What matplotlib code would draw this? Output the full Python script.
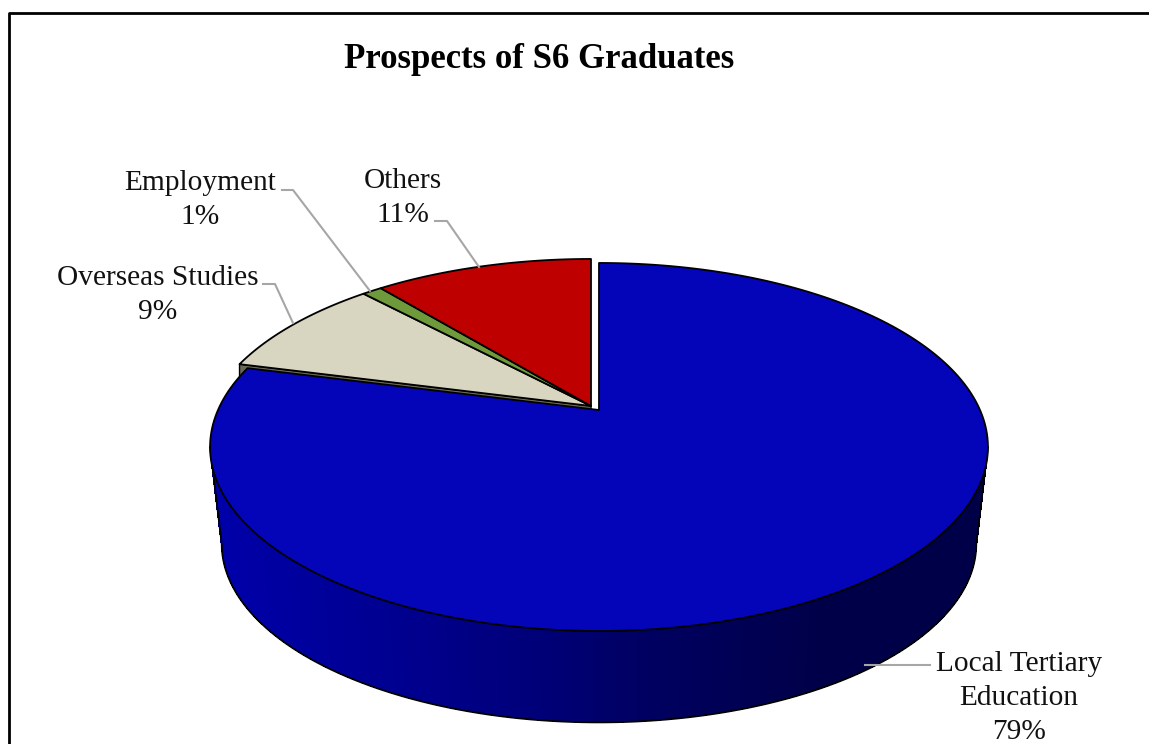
'''
3D looking pie chart of the prospects of S6 graduates, drawn on a pixel sized axes.
'''
import numpy as np
import matplotlib
matplotlib.use('Agg')
import matplotlib.pyplot as plt

categories = ['Local Tertiary\nEducation', 'Overseas Studies', 'Employment', 'Others']
percents = [79, 9, 1, 11]
colors = ['#0404B8', '#D8D6C0', '#6E9A3C', '#BF0000']
exploded = [False, True, True, True]
title = 'Prospects of S6 Graduates'

label_positions = [(1019, 698), (158, 295), (200, 200), (403, 198)]
leader_lines = [
    [(865, 665), (930, 665)],
    [(263, 284), (275, 284), (293, 323)],
    [(282, 190), (293, 190), (370, 291)],
    [(435, 221), (447, 221), (479, 267)],
]

# perspective of the disk
CX, CY = 599, 410
RX, RY = 381, 176.6
K = 0.201
DEPTH = 98
BOTTOM_SCALE = 0.97
EXPLODE_X, EXPLODE_Y = -8, -4


def project(theta, r=1.0, z=0.0, shift=False):
    # theta is clockwise from the top of the pie in radians, z is 0 on top and 1 on the bottom
    X = r * np.sin(theta)
    Y = r * np.cos(theta)
    w = 1 + K * Y
    s = 1 + (BOTTOM_SCALE - 1) * z
    x = CX + RX * X / w * s
    y = CY - RY * Y / w * s + DEPTH * z
    if shift:
        x = x + EXPLODE_X
        y = y + EXPLODE_Y
    return x, y


def wall_color(x):
    blue = np.interp(x, [220, 450, 680, 820], [0xAA, 0x88, 0x5C, 0x48])
    return (0, 0, blue / 255)


plt.rcParams['font.family'] = ['Liberation Serif', 'DejaVu Serif']

fig = plt.figure(figsize=(11.49, 7.44), dpi=100)
ax = fig.add_axes([0, 0, 1, 1])
ax.set_xlim(0, 1149)
ax.set_ylim(744, 0)
ax.axis('off')

# slice limits from the values
fractions = np.array(percents) / sum(percents)
edges = np.concatenate([[0], np.cumsum(fractions)]) * 2 * np.pi

# side wall of the big slice, left and right limits are where the rim turns back
back_limit = np.arccos(-K)
wall_angles = np.linspace(back_limit, 2 * np.pi - back_limit, 120)
for a, b in zip(wall_angles[:-1], wall_angles[1:]):
    x0, y0 = project(a)
    x1, y1 = project(b)
    x2, y2 = project(b, z=1)
    x3, y3 = project(a, z=1)
    ax.fill([x0, x1, x2, x3], [y0, y1, y2, y3], facecolor=wall_color((x2 + x3) / 2), edgecolor='none',
            antialiased=False, zorder=1)
xs, ys = project(wall_angles, z=1)
top_start = project(wall_angles[0])
top_end = project(wall_angles[-1])
ax.plot(np.r_[top_start[0], xs, top_end[0]], np.r_[top_start[1], ys, top_end[1]], color='black', lw=1.3, zorder=2)

# small wall under the cut of the pulled out slices
x0, y0 = project(edges[1], shift=True)
x1, y1 = project(edges[1], r=0, shift=True)
ax.fill([x0, x1, x1, x0], [y0, y1, y1 + 12, y0 + 12], facecolor='#6A6958', edgecolor='black', lw=1.0, zorder=2)

# top faces
for i in range(len(percents)):
    angles = np.linspace(edges[i], edges[i + 1], 240)
    x, y = project(angles, shift=exploded[i])
    cx, cy = project(0.0, r=0, shift=exploded[i])
    ax.fill(np.r_[cx, x], np.r_[cy, y], facecolor=colors[i], edgecolor='black', lw=1.3, joinstyle='round', zorder=3)

ax.text(539, 59, title, fontsize=25, fontweight='bold', ha='center', va='center', color='black')

for name, pct, pos in zip(categories, percents, label_positions):
    ax.text(pos[0], pos[1], f'{name}\n{pct}%', fontsize=21.2, ha='center', va='center',
            linespacing=1.4, color='#111111', zorder=6)

for line in leader_lines:
    pts = np.array(line)
    ax.plot(pts[:, 0], pts[:, 1], color='#A6A6A6', lw=1.5, zorder=5)

# chart frame, the picture is cut on the right and at the bottom
ax.plot([9, 9, 1149], [744, 13, 13], color='black', lw=2.0, zorder=7)

fig.savefig('out.png', dpi=100)
